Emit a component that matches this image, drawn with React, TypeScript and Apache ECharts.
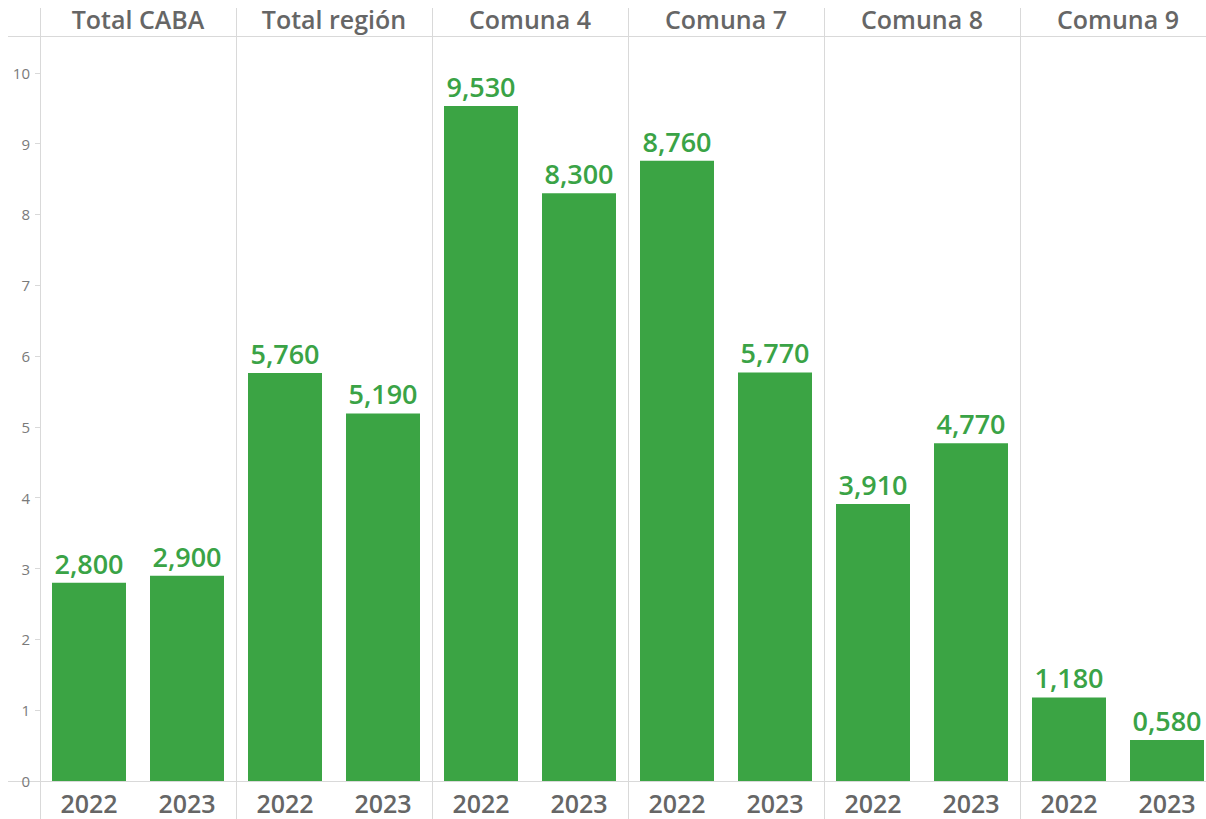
import React, { useEffect, useRef } from "react";
import * as echarts from "echarts";

const categories = ["Total CABA", "Total región", "Comuna 4", "Comuna 7", "Comuna 8", "Comuna 9"];
const years = ["2022", "2023"];
const values2022 = [2.8, 5.76, 9.53, 8.76, 3.91, 1.18];
const values2023 = [2.9, 5.19, 8.3, 5.77, 4.77, 0.58];
const yTicks = [0, 1, 2, 3, 4, 5, 6, 7, 8, 9, 10];

const GREEN = "#3ba444";
const LABEL_GREEN = "#3aa346";
const TEXT = "#666666";
const LINE = "#d9d9d9";
const FONT = "'Open Sans', 'Noto Sans', sans-serif";

export default function App() {
  const ref = useRef<HTMLDivElement>(null);
  useEffect(() => {
    document.body.style.margin = "0";
    const chart = echarts.init(ref.current!, null, { renderer: "svg" });
    const left0 = 40;
    const pw = 196;
    const top = 36;
    const bottom = 38;
    const grids: any[] = [];
    const xAxes: any[] = [];
    const yAxes: any[] = [];
    const series: any[] = [];
    categories.forEach((cat, i) => {
      grids.push({ left: left0 + i * pw, width: pw, top, bottom, containLabel: false });
      xAxes.push({
        type: "category",
        gridIndex: i,
        data: years,
        position: "bottom",
        axisLine: { show: false },
        axisTick: { show: false },
        axisLabel: { color: TEXT, fontSize: 25, fontWeight: 600, fontFamily: FONT, margin: 12, lineHeight: 20 },
      });
      xAxes.push({
        type: "category",
        gridIndex: i,
        data: [cat],
        position: "top",
        axisLine: { show: false },
        axisTick: { show: false },
        axisLabel: { color: TEXT, fontSize: 25, fontWeight: 600, fontFamily: FONT, margin: 4, lineHeight: 26 },
      });
      yAxes.push({
        type: "value",
        gridIndex: i,
        min: 0,
        max: 10.52,
        interval: 1,
        splitLine: { show: false },
        axisLine: { show: false },
        axisTick: { show: i === 0, length: 5, lineStyle: { color: LINE } },
        axisLabel: {
          show: i === 0,
          color: "#7a7a7a",
          fontSize: 15,
          fontFamily: FONT,
          margin: 10,
          showMaxLabel: false,
          formatter: (v: number) => (yTicks.includes(v) ? String(v) : ""),
        },
      });
      series.push({
        type: "bar",
        xAxisIndex: i * 2,
        yAxisIndex: i,
        data: [values2022[i], values2023[i]],
        barWidth: 74,
        itemStyle: { color: GREEN },
        label: {
          show: true,
          position: "top",
          distance: 6,
          color: LABEL_GREEN,
          fontSize: 27,
          fontWeight: 600,
          fontFamily: FONT,
          formatter: (p: any) => p.value.toFixed(3).replace(".", ","),
        },
      });
    });
    const graphics: any[] = [];
    for (let i = 0; i <= 6; i++) {
      const x = left0 + i * pw + 0.5;
      graphics.push({ type: "line", shape: { x1: x, y1: 8, x2: x, y2: 819 }, style: { stroke: LINE, lineWidth: 1 }, z: 0 });
    }
    graphics.push({ type: "line", shape: { x1: 8, y1: top + 0.5, x2: 1216, y2: top + 0.5 }, style: { stroke: LINE, lineWidth: 1 }, z: 0 });
    graphics.push({ type: "line", shape: { x1: 8, y1: 781.5, x2: 1216, y2: 781.5 }, style: { stroke: LINE, lineWidth: 1 }, z: 0 });
    chart.setOption({
      animation: false,
      grid: grids,
      xAxis: xAxes,
      yAxis: yAxes,
      series,
      graphic: graphics,
    });
    return () => chart.dispose();
  }, []);
  return (
    <div style={{ width: 1206, height: 819, overflow: "hidden", position: "relative", background: "#fff" }}>
      <div ref={ref} style={{ width: 1216, height: 819 }} />
    </div>
  );
}
